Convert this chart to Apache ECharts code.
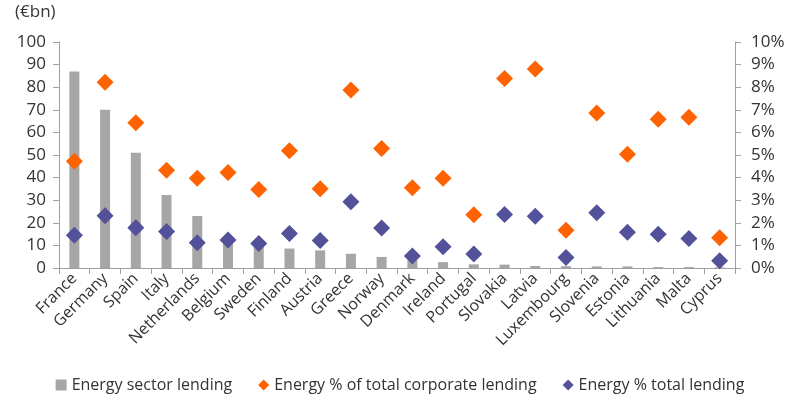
<!DOCTYPE html>
<html><head><meta charset="utf-8">
<script src="https://cdn.jsdelivr.net/npm/echarts@6/dist/echarts.min.js"></script>
<style>html,body{margin:0;padding:0;background:#fff}#c{width:800px;height:408px}</style>
</head><body><div id="c"></div>
<script>
const countries = ["France","Germany","Spain","Italy","Netherlands","Belgium","Sweden","Finland","Austria","Greece","Norway","Denmark","Ireland","Portugal","Slovakia","Latvia","Luxembourg","Slovenia","Estonia","Lithuania","Malta","Cyprus"];
const energyLending = [87, 70, 51, 32.3, 23, 12, 10.5, 8.6, 7.8, 6.3, 4.9, 3.5, 2.6, 1.6, 1.5, 0.9, 0.8, 0.7, 0.7, 0.4, 0.4, 0.3];
const pctCorporate = [4.72, 8.22, 6.43, 4.32, 3.97, 4.23, 3.47, 5.19, 3.51, 7.88, 5.29, 3.55, 3.97, 2.36, 8.38, 8.81, 1.67, 6.86, 5.03, 6.58, 6.67, 1.34];
const pctTotal = [1.45, 2.31, 1.78, 1.62, 1.12, 1.24, 1.08, 1.53, 1.22, 2.93, 1.77, 0.53, 0.94, 0.62, 2.37, 2.29, 0.46, 2.45, 1.58, 1.49, 1.31, 0.32];
const leftTicks = {min: 0, max: 100, interval: 10};
const rightTicks = {min: 0, max: 10, interval: 1};

const FONT = "Open Sans";
const TXT = "#333";
const AX = "#a0a0a0";
const chart = echarts.init(document.getElementById('c'));
chart.setOption({
  animation: false,
  textStyle: {fontFamily: FONT},
  graphic: [{type: 'text', left: 15, top: 4, style: {text: '(€bn)', font: '17px "Open Sans"', fill: TXT}}],
  grid: {left: 59, right: 65, top: 42, bottom: 140},
  legend: {
    bottom: 10, left: 'center', itemGap: 26, itemWidth: 11, itemHeight: 11,
    textStyle: {fontSize: 16, color: TXT, fontFamily: FONT},
    data: [
      {name: 'Energy sector lending', icon: 'rect'},
      {name: 'Energy % of total corporate lending', icon: 'diamond'},
      {name: 'Energy % total lending', icon: 'diamond'}
    ]
  },
  xAxis: {
    type: 'category', data: countries,
    axisLine: {lineStyle: {color: AX}},
    axisTick: {show: true, length: 6, lineStyle: {color: AX}},
    axisLabel: {rotate: 45, interval: 0, fontSize: 16, color: TXT, fontFamily: FONT, margin: 8}
  },
  yAxis: [
    {type: 'value', min: leftTicks.min, max: leftTicks.max, interval: leftTicks.interval,
     splitLine: {show: false},
     axisLine: {show: true, lineStyle: {color: AX}},
     axisTick: {show: true, length: 6, lineStyle: {color: AX}},
     axisLabel: {fontSize: 17, color: TXT, fontFamily: FONT, margin: 13}},
    {type: 'value', min: rightTicks.min, max: rightTicks.max, interval: rightTicks.interval,
     splitLine: {show: false},
     axisLine: {show: true, lineStyle: {color: AX}},
     axisTick: {show: true, length: 6, lineStyle: {color: AX}},
     axisLabel: {fontSize: 17, color: TXT, fontFamily: FONT, margin: 16, formatter: v => v + '%'}}
  ],
  series: [
    {name: 'Energy sector lending', type: 'bar', yAxisIndex: 0, data: energyLending,
     barWidth: 10, itemStyle: {color: '#a6a6a6'}},
    {name: 'Energy % of total corporate lending', type: 'scatter', yAxisIndex: 1, data: pctCorporate,
     symbol: 'diamond', symbolSize: 17, itemStyle: {color: '#ff6200', opacity: 1}},
    {name: 'Energy % total lending', type: 'scatter', yAxisIndex: 1, data: pctTotal,
     symbol: 'diamond', symbolSize: 17, itemStyle: {color: '#525199', opacity: 1}}
  ]
});
</script></body></html>
